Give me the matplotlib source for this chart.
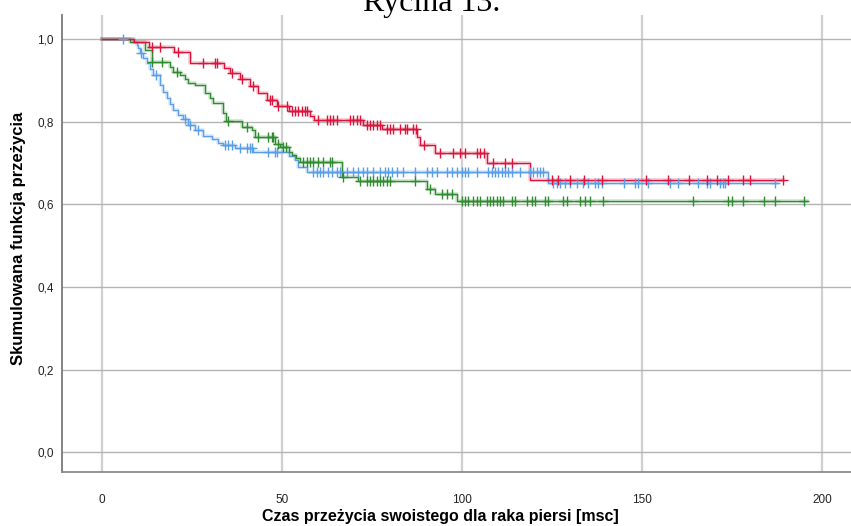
import numpy as np
import matplotlib
matplotlib.use("Agg")
import matplotlib.pyplot as plt
import matplotlib.patheffects as pe

# Kaplan-Meier curves: event times [months] and survival after each event
red_times = [9, 13, 20, 24.5, 34, 35.5, 38.3, 41, 43.4, 45.7, 48.5, 51.8, 57.8, 59,
             72.5, 77.7, 87.5, 88.3, 92.5, 106.9, 118.9]
red_surv = [0.993, 0.981, 0.968, 0.942, 0.930, 0.918, 0.903, 0.886, 0.869, 0.852, 0.838,
            0.826, 0.814, 0.804, 0.792, 0.782, 0.763, 0.743, 0.724, 0.700, 0.659]
red_censored = [13.9, 16.1, 21.1, 28, 31.4, 31.9, 36, 38.9, 42, 46.7, 47.2, 48.9, 51.4,
                52.8, 53.6, 54.4, 55.6, 56.4, 56.9, 60, 62.5, 63.3, 64.2, 65.3, 68.9, 69.7,
                70.8, 71.7, 73.6, 74.4, 75.3, 76.4, 77.2, 79.2, 80, 80.8, 82.8, 84.2, 84.7,
                86.4, 87.2, 89.4, 93.9, 97.5, 99.4, 100.8, 104.2, 105, 106.1, 108.6, 111.9,
                113.9, 125, 126.7, 130, 133.9, 138.9, 151.1, 157.2, 163, 168, 170.8, 173.9,
                178, 180, 189.2]
red_end = 189.2

blue_times = [8.7, 9.6, 10.1, 10.6, 11.5, 12.4, 13.3, 14.3, 16.1, 17, 18, 18.9, 19.8,
              21.2, 22.6, 24, 25.8, 28.1, 30.5, 32.3, 33.5, 36.9, 42, 51.8, 53.6, 54.5,
              56.9, 123.9]
blue_surv = [0.993, 0.985, 0.977, 0.967, 0.953, 0.941, 0.927, 0.913, 0.889, 0.872, 0.856,
             0.843, 0.828, 0.816, 0.806, 0.792, 0.780, 0.765, 0.757, 0.749, 0.743, 0.735,
             0.727, 0.717, 0.707, 0.691, 0.679, 0.652]
blue_censored = [5.9, 10.8, 15, 23, 24.4, 26.8, 34.2, 35.1, 36.1, 38.3, 40.3, 41.1, 41.7,
                 46.1, 48.1, 48.6, 58.6, 59.7, 60.6, 61.4, 62.8, 63.9, 65.3, 66.1, 68.1,
                 69.7, 71.1, 72.5, 73.6, 75.3, 77.2, 78.6, 79.4, 80.6, 81.9, 83.6, 86.9,
                 90.3, 91.7, 93.1, 95.8, 97.2, 98.6, 100, 100.8, 101.7, 104.2, 107.2, 108.3,
                 109.2, 110, 111.1, 111.9, 112.8, 113.9, 116.1, 118.9, 119.7, 120.8, 121.7,
                 122.5, 125.3, 126.4, 127.2, 128.6, 130, 131.9, 133.6, 135, 136.9, 137.8,
                 138.9, 145, 148.1, 148.9, 151.7, 157.8, 160, 165.6, 168.1, 168.9, 171.7,
                 172.5, 173.1, 186.9]
blue_end = 187.5

green_times = [7.8, 12, 13.8, 18.9, 19.8, 21.7, 23, 24, 25.8, 28.6, 30, 30.9, 33.7, 34.4,
               38.8, 41.6, 42.5, 48, 49.4, 51.9, 52.7, 54, 55, 66.6, 71, 90.2, 92.5, 98.5]
green_surv = [0.993, 0.973, 0.945, 0.933, 0.921, 0.913, 0.902, 0.893, 0.889, 0.869, 0.856,
              0.844, 0.820, 0.802, 0.788, 0.780, 0.763, 0.747, 0.739, 0.727, 0.719, 0.711,
              0.703, 0.667, 0.656, 0.638, 0.626, 0.609]
green_censored = [13.9, 16.8, 20.9, 35.1, 40.2, 43.3, 46.1, 47.2, 47.5, 48.9, 50.3, 51.1,
                  55.8, 56.9, 57.8, 58.6, 60, 61.4, 63.3, 63.9, 66.9, 71.7, 73.6, 74.4, 75.3,
                  76.4, 77.2, 78.1, 79.2, 80, 86.9, 91.1, 94.4, 95.7, 97.1, 99.9, 100.8, 101.7,
                  103.1, 104.2, 105, 106.9, 107.8, 108.6, 109.7, 110.6, 111.4, 113.9, 114.7,
                  118.1, 119.4, 120.3, 123.1, 123.9, 128, 129.2, 132.8, 134.2, 135.6, 139.2,
                  164.2, 173.9, 175, 178.1, 183.9, 186.9, 195]
green_end = 195.8

x_ticks = [0, 50, 100, 150, 200]
y_ticks = [0.0, 0.2, 0.4, 0.6, 0.8, 1.0]

fig = plt.figure(figsize=(8.51, 5.26), dpi=100)
ax = fig.add_axes([62 / 851, 54 / 526, 1 - 62 / 851, 457 / 526])

groups = [
    (blue_times, blue_surv, blue_censored, blue_end, '#5a9ee8'),
    (green_times, green_surv, green_censored, green_end, '#2e8b2e'),
    (red_times, red_surv, red_censored, red_end, '#dc143c'),
]
for times, surv, cens, end, col in groups:
    t = np.r_[0, times, end]
    s = np.r_[1.0, surv, surv[-1]]
    halo = [pe.Stroke(linewidth=2.8, foreground=col, alpha=0.2), pe.Normal()]
    ax.step(t, s, where='post', color=col, lw=0.95, path_effects=halo, zorder=3)
    # survival value at each censoring time
    idx = np.searchsorted(t, cens, side='right') - 1
    ax.plot(cens, s[idx], linestyle='none', marker='+', color=col,
            markersize=7, markeredgewidth=1.0, zorder=4)

ax.set_xlim(-11.1, 208)
ax.set_ylim(-0.048, 1.058)
ax.set_xticks(x_ticks)
ax.set_yticks(y_ticks)
ax.set_yticklabels([f'{v:.1f}'.replace('.', ',') for v in y_ticks])
ax.tick_params(length=0, labelsize=8.5, colors='#222222')
ax.tick_params(axis='x', pad=16)
ax.tick_params(axis='y', pad=6)
for lab in ax.get_xticklabels() + ax.get_yticklabels():
    lab.set_family(['Liberation Sans Narrow', 'Liberation Sans', 'DejaVu Sans'])

ax.grid(axis='x', color='#d0d0d0', lw=1.6)
ax.grid(axis='y', color='#b4b4b4', lw=1.0)
ax.set_axisbelow(True)
ax.spines['top'].set_visible(False)
ax.spines['right'].set_visible(False)
ax.spines['left'].set_color('#7a7a7a')
ax.spines['bottom'].set_color('#8a8a8a')
ax.spines['left'].set_linewidth(1.3)
ax.spines['bottom'].set_linewidth(1.3)

ax.set_xlabel('Czas przeżycia swoistego dla raka piersi [msc]', fontsize=11.5,
              fontweight='bold', family='Liberation Sans')
ax.set_ylabel('Skumulowana funkcja przeżycia', fontsize=12, fontweight='bold',
              family='Liberation Sans')
ax.xaxis.set_label_coords((440 - 62) / 789, (472 - 517) / 457)
ax.yaxis.set_label_coords((18 - 62) / 789, (472 - 238) / 457)
ax.xaxis.label.set_va('center')
ax.yaxis.label.set_va('center')

fig.text(0.507, 1 - 11 / 526, 'Rycina 13.', ha='center', va='baseline',
         fontsize=23, family='Liberation Serif')

fig.savefig('out.png', dpi=100)
